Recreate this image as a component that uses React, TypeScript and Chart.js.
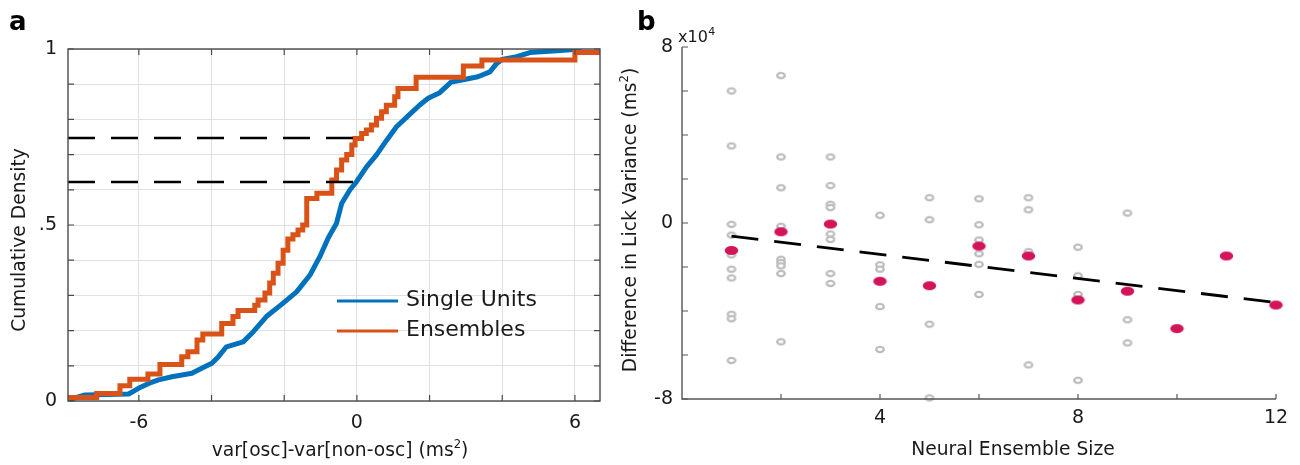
import React, { useEffect, useRef } from "react";
import { Chart, registerables } from "chart.js";

Chart.register(...registerables);

const FONT = "'DejaVu Sans', Verdana, sans-serif";

// ---------------- Panel a data ----------------
const singleUnitsX = [-7.95, -7.48, -6.28, -6.01, -5.73, -5.46, -5.09, -4.54, -4.27, -3.99, -3.81, -3.59, -3.13, -2.85, -2.49, -2.03, -1.66, -1.29, -1.02, -0.79, -0.56, -0.42, -0.19, -0.01, 0.27, 0.54, 0.82, 1.09, 1.46, 1.73, 1.96, 2.28, 2.59, 2.89, 3.33, 3.66, 3.83, 3.99, 4.4, 4.76, 5.5, 6.18];
const singleUnitsY = [0.003, 0.017, 0.02, 0.036, 0.05, 0.06, 0.069, 0.079, 0.093, 0.107, 0.126, 0.154, 0.168, 0.197, 0.24, 0.278, 0.31, 0.358, 0.41, 0.463, 0.505, 0.561, 0.6, 0.623, 0.666, 0.699, 0.741, 0.779, 0.815, 0.841, 0.86, 0.876, 0.906, 0.912, 0.921, 0.935, 0.957, 0.97, 0.978, 0.99, 0.995, 1.0];

const ensemblesX = [-7.95, -7.16, -6.52, -6.25, -5.75, -5.42, -4.82, -4.65, -4.4, -4.24, -3.72, -3.41, -3.27, -2.81, -2.72, -2.53, -2.4, -2.3, -2.17, -2.03, -1.9, -1.76, -1.62, -1.49, -1.38, -1.1, -0.69, -0.56, -0.42, -0.28, -0.14, -0.05, 0.13, 0.26, 0.4, 0.54, 0.68, 0.81, 1.04, 1.13, 1.63, 2.93, 3.44, 6.0, 6.7];
const ensemblesY = [0.01, 0.021, 0.043, 0.062, 0.077, 0.104, 0.126, 0.14, 0.173, 0.19, 0.22, 0.24, 0.257, 0.272, 0.287, 0.307, 0.335, 0.363, 0.391, 0.428, 0.46, 0.472, 0.486, 0.5, 0.575, 0.59, 0.628, 0.656, 0.685, 0.7, 0.727, 0.746, 0.76, 0.77, 0.784, 0.803, 0.822, 0.84, 0.864, 0.888, 0.92, 0.952, 0.969, 0.99, 0.99];

const refLineX = [-7.95, 0];
const refLineEnsemblesY = 0.747;
const refLineSingleY = 0.622;

const xTicksA = [-6, -4, -2, 0, 2, 4, 6];
const xTickLabelValuesA = [-6, 0, 6];
const xTickLabelsA = ["-6", "0", "6"];
const yTicksA = [0, 0.1, 0.2, 0.3, 0.4, 0.5, 0.6, 0.7, 0.8, 0.9, 1];
const yTickLabelValuesA = [0, 0.5, 1];
const yTickLabelsA = ["0", ".5", "1"];
const legendLabelsA = ["Single Units", "Ensembles"];
const xTitleA = "var[osc]-var[non-osc] (ms";
const yTitleA = "Cumulative Density";

// ---------------- Panel b data (units of 10^4 ms^2) ----------------
const unitsX = [
  1, 1, 1, 1, 1, 1, 1, 1, 1, 1,
  2, 2, 2, 2, 2, 2, 2, 2, 2,
  3, 3, 3, 3, 3, 3, 3, 3,
  4, 4, 4, 4, 4,
  5, 5, 5, 5,
  6, 6, 6, 6, 6, 6,
  7, 7, 7, 7,
  8, 8, 8, 8,
  9, 9, 9,
];
const unitsY = [
  6.0, 3.5, -0.06, -0.55, -1.45, -2.1, -2.5, -4.15, -4.35, -6.25,
  6.7, 3.0, 1.6, -0.15, -1.65, -1.8, -1.95, -2.3, -5.4,
  3.0, 1.7, 0.85, 0.7, -0.5, -0.75, -2.3, -2.75,
  0.35, -1.9, -2.1, -3.8, -5.75,
  1.15, 0.15, -4.6, -7.95,
  1.1, -0.08, -0.77, -1.4, -1.88, -3.25,
  1.15, 0.6, -1.3, -6.45,
  -1.1, -2.4, -3.25, -7.15,
  0.45, -4.4, -5.45,
];
const ensembleSizes = [1, 2, 3, 4, 5, 6, 7, 8, 9, 10, 11, 12];
const ensembleMeans = [-1.25, -0.4, -0.05, -2.65, -2.85, -1.05, -1.5, -3.5, -3.1, -4.8, -1.5, -3.73];
const fitX = [1, 12];
const fitY = [-0.6, -3.62];

const xTicksB = [2, 4, 6, 8, 10, 12];
const xTickLabelValuesB = [4, 8, 12];
const xTickLabelsB = ["4", "8", "12"];
const yTicksB = [-8, -6, -4, -2, 0, 2, 4, 6, 8];
const yTickLabelValuesB = [-8, 0, 8];
const yTickLabelsB = ["-8", "0", "8"];
const xTitleB = "Neural Ensemble Size";
const yTitleB = "Difference in Lick Variance (ms";

// ---------------- helpers ----------------
function labelFor(value: number, vals: number[], labels: string[]) {
  for (let i = 0; i < vals.length; i++) {
    if (Math.abs(vals[i] - value) < 1e-6) return labels[i];
  }
  return "";
}

function ellipseSprite(rx: number, ry: number, fill: string | null, stroke: string | null, lw: number) {
  const pad = Math.ceil(lw) + 1;
  const c = document.createElement("canvas");
  c.width = Math.round(rx * 2 + pad * 2);
  c.height = Math.round(ry * 2 + pad * 2);
  const g = c.getContext("2d")!;
  g.beginPath();
  g.ellipse(c.width / 2, c.height / 2, rx, ry, 0, 0, Math.PI * 2);
  if (fill) {
    g.fillStyle = fill;
    g.fill();
  }
  if (stroke) {
    g.strokeStyle = stroke;
    g.lineWidth = lw;
    g.stroke();
  }
  return c;
}

const TEXT = "#1a1a1a";
const AXIS = "#4a4a4a";
const TICK_FONT = 19;
const TITLE_FONT = 18.7;

// draws "text" followed by a superscript "2" and ")" centred at (cx, cy); rotated if rot != 0
function drawUnitTitle(ctx: CanvasRenderingContext2D, text: string, cx: number, cy: number, rot: number, size: number) {
  ctx.save();
  ctx.translate(cx, cy);
  if (rot) ctx.rotate(rot);
  ctx.fillStyle = TEXT;
  ctx.textBaseline = "middle";
  ctx.textAlign = "left";
  ctx.font = `${size}px ${FONT}`;
  const w1 = ctx.measureText(text).width;
  ctx.font = `${size * 0.62}px ${FONT}`;
  const w2 = ctx.measureText("2").width;
  ctx.font = `${size}px ${FONT}`;
  const w3 = ctx.measureText(")").width;
  const total = w1 + w2 + w3;
  let x = -total / 2;
  ctx.fillText(text, x, 0);
  x += w1;
  ctx.font = `${size * 0.62}px ${FONT}`;
  ctx.fillText("2", x, -size * 0.3);
  x += w2;
  ctx.font = `${size}px ${FONT}`;
  ctx.fillText(")", x, 0);
  ctx.restore();
}

function drawTitle(ctx: CanvasRenderingContext2D, text: string, cx: number, cy: number, rot: number, size: number) {
  ctx.save();
  ctx.translate(cx, cy);
  if (rot) ctx.rotate(rot);
  ctx.fillStyle = TEXT;
  ctx.textBaseline = "middle";
  ctx.textAlign = "center";
  ctx.font = `${size}px ${FONT}`;
  ctx.fillText(text, 0, 0);
  ctx.restore();
}

export default function App() {
  const refA = useRef<HTMLCanvasElement>(null);
  const refB = useRef<HTMLCanvasElement>(null);

  useEffect(() => {
    Chart.defaults.font.family = FONT;
    Chart.defaults.color = TEXT;

    // ---------- panel a ----------
    const boxA = {
      id: "boxA",
      afterDraw(chart: any) {
        const { ctx, chartArea } = chart;
        const { left, right, top, bottom } = chartArea;
        const xs = chart.scales.x;
        const ys = chart.scales.y;
        ctx.save();
        ctx.strokeStyle = AXIS;
        ctx.lineWidth = 1.4;
        ctx.strokeRect(left, top, right - left, bottom - top);
        ctx.lineWidth = 1.2;
        ctx.beginPath();
        for (const v of xTicksA) {
          const p = xs.getPixelForValue(v);
          ctx.moveTo(p, bottom);
          ctx.lineTo(p, bottom - 6);
          ctx.moveTo(p, top);
          ctx.lineTo(p, top + 6);
        }
        for (const v of yTicksA) {
          const p = ys.getPixelForValue(v);
          ctx.moveTo(left, p);
          ctx.lineTo(left + 6, p);
          ctx.moveTo(right, p);
          ctx.lineTo(right - 6, p);
        }
        ctx.stroke();

        // legend
        const colors = ["#0072BD", "#D95319"];
        const rows = [301, 331];
        ctx.lineWidth = 3;
        for (let i = 0; i < 2; i++) {
          ctx.strokeStyle = colors[i];
          ctx.beginPath();
          ctx.moveTo(337, rows[i]);
          ctx.lineTo(398, rows[i]);
          ctx.stroke();
          ctx.fillStyle = TEXT;
          ctx.font = `22px ${FONT}`;
          ctx.textBaseline = "middle";
          ctx.textAlign = "left";
          ctx.fillText(legendLabelsA[i], 406, rows[i] - 1);
        }

        // axis titles
        drawTitle(ctx, yTitleA, 20, 240, -Math.PI / 2, TITLE_FONT);
        drawUnitTitle(ctx, xTitleA, 340, 451, 0, TITLE_FONT);

        // panel letter
        ctx.font = `bold 26px ${FONT}`;
        ctx.textAlign = "left";
        ctx.textBaseline = "alphabetic";
        ctx.fillStyle = "#000";
        ctx.fillText("a", 9, 30);
        ctx.restore();
      },
    };

    const chartA = new Chart(refA.current!, {
      type: "line",
      data: {
        datasets: [
          {
            label: "ref-ensembles",
            data: refLineX.map((x) => ({ x, y: refLineEnsemblesY })),
            borderColor: "#000",
            borderWidth: 2.6,
            borderDash: [27, 16],
            pointRadius: 0,
            order: 0,
          },
          {
            label: "ref-single",
            data: refLineX.map((x) => ({ x, y: refLineSingleY })),
            borderColor: "#000",
            borderWidth: 2.6,
            borderDash: [27, 16],
            pointRadius: 0,
            order: 0,
          },
          {
            label: legendLabelsA[1],
            data: ensemblesX.map((x, i) => ({ x, y: ensemblesY[i] })),
            borderColor: "#D95319",
            borderWidth: 5,
            stepped: "before",
            pointRadius: 0,
            order: 1,
          },
          {
            label: legendLabelsA[0],
            data: singleUnitsX.map((x, i) => ({ x, y: singleUnitsY[i] })),
            borderColor: "#0072BD",
            borderWidth: 5,
            borderJoinStyle: "round",
            pointRadius: 0,
            order: 2,
          },
        ],
      },
      options: {
        responsive: false,
        animation: false,
        events: [],
        layout: { padding: { top: 49, right: 5, left: 0, bottom: 0 } },
        plugins: { legend: { display: false }, tooltip: { enabled: false } },
        scales: {
          x: {
            type: "linear",
            min: -7.95,
            max: 6.69,
            afterBuildTicks: (s: any) => {
              s.ticks = xTicksA.map((v) => ({ value: v }));
            },
            afterFit: (s: any) => {
              s.height = 64;
            },
            grid: { color: "#e0e0e0", lineWidth: 1, drawTicks: false },
            border: { display: false },
            ticks: {
              autoSkip: false,
              maxRotation: 0,
              padding: 10.5,
              color: TEXT,
              font: { size: TICK_FONT },
              callback: (v: any) => labelFor(Number(v), xTickLabelValuesA, xTickLabelsA),
            },
          },
          y: {
            type: "linear",
            min: 0,
            max: 1,
            afterBuildTicks: (s: any) => {
              s.ticks = yTicksA.map((v) => ({ value: v }));
            },
            afterFit: (s: any) => {
              s.width = 68;
            },
            grid: { color: "#e0e0e0", lineWidth: 1, drawTicks: false },
            border: { display: false },
            ticks: {
              autoSkip: false,
              padding: 11,
              color: TEXT,
              font: { size: TICK_FONT },
              callback: (v: any) => labelFor(Number(v), yTickLabelValuesA, yTickLabelsA),
            },
          },
        },
      },
      plugins: [boxA],
    } as any);

    // ---------- panel b ----------
    const grayRing = ellipseSprite(3.8, 2.6, "#ffffff", "#bdbdbd", 2.3);
    const redDot = ellipseSprite(6.7, 4.6, "#d4145a", null, 0);

    const axesB = {
      id: "axesB",
      afterDraw(chart: any) {
        const { ctx, chartArea } = chart;
        const { left, right, top, bottom } = chartArea;
        const xs = chart.scales.x;
        const ys = chart.scales.y;
        ctx.save();
        ctx.strokeStyle = "#555";
        ctx.lineWidth = 1.4;
        ctx.beginPath();
        ctx.moveTo(left, top);
        ctx.lineTo(left, bottom);
        ctx.lineTo(right, bottom);
        ctx.stroke();
        ctx.lineWidth = 1.2;
        ctx.beginPath();
        for (const v of xTicksB) {
          const p = xs.getPixelForValue(v);
          ctx.moveTo(p, bottom);
          ctx.lineTo(p, bottom - 5);
        }
        for (const v of yTicksB) {
          const p = ys.getPixelForValue(v);
          ctx.moveTo(left, p);
          ctx.lineTo(left + 6, p);
        }
        ctx.stroke();

        // exponent label
        ctx.fillStyle = TEXT;
        ctx.textAlign = "left";
        ctx.textBaseline = "alphabetic";
        ctx.font = `16px ${FONT}`;
        const ex = left - 4;
        ctx.fillText("x10", ex, 42);
        const w = ctx.measureText("x10").width;
        ctx.font = `11px ${FONT}`;
        ctx.fillText("4", ex + w + 0.5, 35);

        // axis titles (canvas starts at page x 605)
        drawUnitTitle(ctx, yTitleB, 631 - 605, 220, -Math.PI / 2, TITLE_FONT);
        drawTitle(ctx, xTitleB, 1013 - 605, 450, 0, TITLE_FONT);

        // panel letter
        ctx.font = `bold 26px ${FONT}`;
        ctx.fillStyle = "#000";
        ctx.textAlign = "left";
        ctx.textBaseline = "alphabetic";
        ctx.fillText("b", 32, 30);
        ctx.restore();
      },
    };

    const chartB = new Chart(refB.current!, {
      type: "scatter",
      data: {
        datasets: [
          {
            label: "ensemble means",
            data: ensembleSizes.map((x, i) => ({ x, y: ensembleMeans[i] })),
            pointStyle: redDot,
            pointRadius: 6,
            showLine: false,
            order: 0,
          },
          {
            type: "line",
            label: "fit",
            data: fitX.map((x, i) => ({ x, y: fitY[i] })),
            borderColor: "#000",
            borderWidth: 2.8,
            borderDash: [27, 16],
            pointRadius: 0,
            order: 1,
          },
          {
            label: "single units",
            data: unitsX.map((x, i) => ({ x, y: unitsY[i] })),
            pointStyle: grayRing,
            pointRadius: 4,
            showLine: false,
            order: 2,
          },
        ],
      },
      options: {
        responsive: false,
        animation: false,
        events: [],
        clip: false,
        layout: { padding: { top: 47, right: 24, left: 0, bottom: 0 } },
        plugins: { legend: { display: false }, tooltip: { enabled: false } },
        scales: {
          x: {
            type: "linear",
            min: 0,
            max: 12,
            afterBuildTicks: (s: any) => {
              s.ticks = xTicksB.map((v) => ({ value: v }));
            },
            afterFit: (s: any) => {
              s.height = 66;
            },
            grid: { display: false, drawTicks: false },
            border: { display: false },
            ticks: {
              autoSkip: false,
              maxRotation: 0,
              padding: 7.5,
              color: TEXT,
              font: { size: TICK_FONT },
              callback: (v: any) => labelFor(Number(v), xTickLabelValuesB, xTickLabelsB),
            },
          },
          y: {
            type: "linear",
            min: -8,
            max: 8,
            afterBuildTicks: (s: any) => {
              s.ticks = yTicksB.map((v) => ({ value: v }));
            },
            afterFit: (s: any) => {
              s.width = 77;
            },
            grid: { display: false, drawTicks: false },
            border: { display: false },
            ticks: {
              autoSkip: false,
              padding: 9,
              color: TEXT,
              font: { size: TICK_FONT },
              callback: (v: any) => labelFor(Number(v), yTickLabelValuesB, yTickLabelsB),
            },
          },
        },
      },
      plugins: [axesB],
    } as any);

    return () => {
      chartA.destroy();
      chartB.destroy();
    };
  }, []);

  return (
    <div style={{ position: "fixed", left: 0, top: 0, width: 1300, height: 465, background: "#fff" }}>
      <canvas ref={refA} width={605} height={465} style={{ position: "absolute", left: 0, top: 0 }} />
      <canvas ref={refB} width={695} height={465} style={{ position: "absolute", left: 605, top: 0 }} />
    </div>
  );
}
